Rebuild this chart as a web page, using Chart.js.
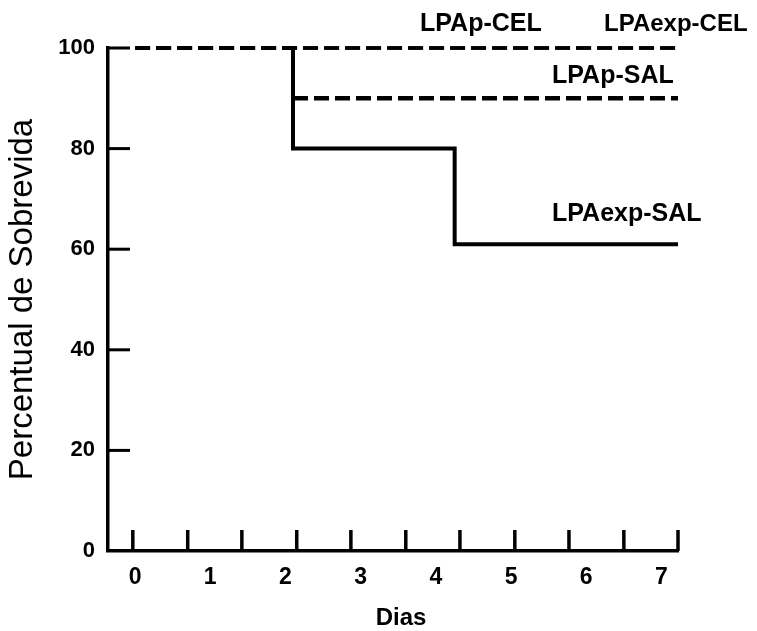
<!DOCTYPE html>
<html><head><meta charset="utf-8">
<script src="https://cdn.jsdelivr.net/npm/chart.js@4.4.0/dist/chart.umd.min.js"></script>
<style>html,body{margin:0;padding:0;background:#fff;}canvas{display:block}</style>
</head><body>
<canvas id="c" width="757" height="631"></canvas>
<script>
// ---- data ----
const seriesNames = ['LPAp-CEL', 'LPAexp-CEL', 'LPAp-SAL', 'LPAexp-SAL'];
const lpapCelDays = [0, 7.22];
const lpapCelSurv = [100, 100];
const lpaexpCelDays = [0, 7.22];
const lpaexpCelSurv = [100, 100];
const lpapSalDays = [0, 2.1, 7.22];
const lpapSalSurv = [100, 90, 90];
const lpaexpSalDays = [0, 2.1, 2.1, 4.25, 7.22];
const lpaexpSalSurv = [100, 100, 80, 61, 61];
const xTickLabels = [0, 1, 2, 3, 4, 5, 6, 7];
const xTickMarks = [-0.03, 0.70, 1.42, 2.15, 2.87, 3.60, 4.32, 5.05, 5.77, 6.50, 7.22];
const yTickLabels = [0, 20, 40, 60, 80, 100];
const xTitle = 'Dias';
const yTitle = 'Percentual de Sobrevida';

const pts = (xs, ys) => xs.map((x, i) => ({x, y: ys[i]}));

function fontAvailable(name) {
  const c = document.createElement('canvas').getContext('2d');
  const t = 'Percentual de Sobrevida';
  c.font = '40px monospace';
  const w1 = c.measureText(t).width;
  c.font = '40px "' + name + '", monospace';
  return c.measureText(t).width !== w1;
}
const narrow = fontAvailable('Liberation Sans Narrow');
const yTitleFont = narrow
  ? {family: '"Liberation Sans Narrow", "Arial Narrow", sans-serif', size: 40, weight: 'normal'}
  : {family: '"Liberation Sans", Arial, sans-serif', size: 33, weight: 'normal'};

const DASH = [15, 6];
const FONT = '"Liberation Sans", Arial, sans-serif';
const labelPos = [
  {x: 420, y: 31, size: 25},
  {x: 604, y: 31, size: 24},
  {x: 552, y: 83, size: 25},
  {x: 552, y: 221, size: 25}
];

const tickMarksPlugin = {
  id: 'tickMarks',
  afterDraw(chart) {
    const {ctx, chartArea, scales: {x, y}} = chart;
    ctx.save();
    ctx.strokeStyle = '#000';
    ctx.lineWidth = 3.5;
    ctx.lineCap = 'butt';
    xTickMarks.forEach(v => {
      const px = x.getPixelForValue(v);
      ctx.beginPath();
      ctx.moveTo(px, chartArea.bottom);
      ctx.lineTo(px, chartArea.bottom - 21);
      ctx.stroke();
    });
    ctx.lineWidth = 3;
    yTickLabels.filter(v => v > 0).forEach(v => {
      const py = y.getPixelForValue(v);
      ctx.beginPath();
      ctx.moveTo(chartArea.left, py);
      ctx.lineTo(chartArea.left + 22, py);
      ctx.stroke();
    });
    ctx.restore();
  }
};

const textPlugin = {
  id: 'texts',
  afterDraw(chart) {
    const ctx = chart.ctx;
    ctx.save();
    ctx.fillStyle = '#000';
    ctx.textAlign = 'left';
    ctx.textBaseline = 'alphabetic';
    seriesNames.forEach((n, i) => {
      ctx.font = 'bold ' + labelPos[i].size + 'px ' + FONT;
      ctx.fillText(n, labelPos[i].x, labelPos[i].y);
    });
    ctx.font = 'bold 24px ' + FONT;
    ctx.textAlign = 'center';
    ctx.fillText(xTitle, 401, 625);
    ctx.restore();
  }
};

new Chart(document.getElementById('c'), {
  type: 'line',
  data: {
    datasets: [
      {label: seriesNames[0], data: pts(lpapCelDays, lpapCelSurv), borderColor: '#000', borderWidth: 3.5, borderDash: DASH, pointRadius: 0, stepped: true, clip: false, fill: false},
      {label: seriesNames[1], data: pts(lpaexpCelDays, lpaexpCelSurv), borderColor: '#000', borderWidth: 3.5, borderDash: DASH, pointRadius: 0, stepped: true, clip: false, fill: false},
      {label: seriesNames[2], data: pts(lpapSalDays, lpapSalSurv), borderColor: '#000', borderWidth: 4.5, borderDash: DASH, pointRadius: 0, stepped: true, clip: false, fill: false,
        segment: {borderWidth: c => c.p0DataIndex === 0 ? 3.5 : undefined}},
      {label: seriesNames[3], data: pts(lpaexpSalDays, lpaexpSalSurv), borderColor: '#000', borderWidth: 4, borderDash: [], pointRadius: 0, stepped: true, clip: false, fill: false, borderJoinStyle: 'miter',
        segment: {borderDash: c => c.p0DataIndex === 0 ? DASH : undefined, borderWidth: c => c.p0DataIndex === 0 ? 3.5 : undefined}}
    ]
  },
  options: {
    responsive: false,
    animation: false,
    devicePixelRatio: 1,
    layout: {padding: {left: 0, top: 48, right: 79, bottom: 0}},
    plugins: {legend: {display: false}, tooltip: {enabled: false}},
    scales: {
      x: {
        type: 'linear',
        min: -0.36,
        max: 7.22,
        afterBuildTicks: s => { s.ticks = xTickLabels.map(v => ({value: v})); },
        afterFit: s => { s.height = 80; },
        grid: {display: false, drawTicks: false},
        border: {display: true, color: '#000', width: 3.5},
        ticks: {color: '#000', padding: 13, font: {family: FONT, size: 23, weight: 'bold'}, maxRotation: 0, autoSkip: false},
        title: {display: false, text: xTitle}
      },
      y: {
        type: 'linear',
        min: 0,
        max: 100,
        afterBuildTicks: s => { s.ticks = yTickLabels.map(v => ({value: v})); },
        afterFit: s => { s.width = 108; },
        grid: {display: false, drawTicks: false},
        border: {display: true, color: '#000', width: 3.5},
        ticks: {color: '#000', padding: 13, font: {family: FONT, size: 22, weight: 'bold'}},
        title: {display: true, text: yTitle, color: '#000', padding: {top: 3, bottom: 0}, font: yTitleFont}
      }
    }
  },
  plugins: [tickMarksPlugin, textPlugin]
});
</script>
</body></html>
